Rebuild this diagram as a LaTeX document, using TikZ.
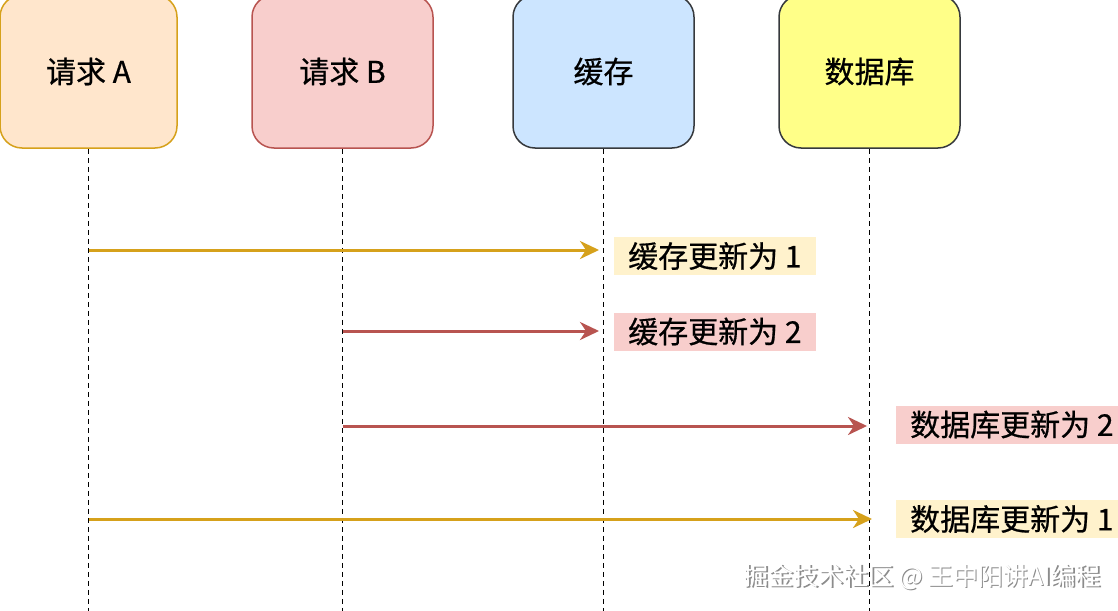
\documentclass[tikz,border=0pt]{standalone}
\usepackage{fontspec}
\setmainfont{Noto Sans CJK SC}
\newfontfamily\medfont{Noto Sans CJK SC}[FakeBold=0.6]
\usetikzlibrary{arrows.meta}
\definecolor{gold}{HTML}{D6A11B}
\definecolor{redline}{HTML}{B85450}
\definecolor{orangefill}{HTML}{FFE6CC}
\definecolor{orangeline}{HTML}{D6A11B}
\definecolor{redfill}{HTML}{F8CECC}
\definecolor{bluefill}{HTML}{CCE5FF}
\definecolor{yellowfill}{HTML}{FFFF88}
\definecolor{darkline}{HTML}{36393D}
\definecolor{notefill}{HTML}{FFF2CC}
\begin{document}
\begin{tikzpicture}[x=1pt,y=-1pt,
  actor/.style={draw, line width=1.5pt, rounded corners=22pt, minimum width=181pt, minimum height=153pt, font=\fontsize{30}{34}\medfont, inner sep=0pt},
  life/.style={line width=1.8pt, dash pattern=on 5pt off 4pt, black},
  msg/.style={line width=3pt, -{Stealth[length=19pt,width=18pt,inset=6pt]}},
  note/.style={anchor=west, minimum height=38pt, inner xsep=14pt, inner ysep=0pt, font=\fontsize{30}{34}\medfont},
  wm/.style={font=\fontsize{25}{28}\selectfont}
]
\useasboundingbox (0,0) rectangle (1118,610);
\fill[white] (0,0) rectangle (1118,610);
% actors
\node[actor, fill=orangefill, draw=orangeline, minimum width=177pt] (A) at (88.5,71.5) {请求 A};
\node[actor, fill=redfill, draw=redline] (B) at (342.5,71.5) {请求 B};
\node[actor, fill=bluefill, draw=darkline] (C) at (603.5,71.5) {缓存};
\node[actor, fill=yellowfill, draw=darkline] (D) at (869.5,71.5) {数据库};
% lifeline ends
\coordinate (Ae) at (88.5,612);
\coordinate (Be) at (342.5,612);
\coordinate (Ce) at (603.5,612);
\coordinate (De) at (869.5,612);
\draw[life] (A.south) -- (Ae);
\draw[life] (B.south) -- (Be);
\draw[life] (C.south) -- (Ce);
\draw[life] (D.south) -- (De);
% message points
\coordinate (a1) at (88.5,250);
\coordinate (c1) at (599,250);
\coordinate (b2) at (342.5,331);
\coordinate (c2) at (599,331);
\coordinate (b3) at (342.5,426);
\coordinate (d3) at (867,426);
\coordinate (a4) at (88.5,519);
\coordinate (d4) at (872,519);
\draw[msg, gold] (a1) -- (c1);
\draw[msg, redline] (b2) -- (c2);
\draw[msg, redline] (b3) -- (d3);
\draw[msg, gold] (a4) -- (d4);
% notes
\node[note, fill=notefill] (n1) at (614,256) {缓存更新为 1};
\node[note, fill=redfill] (n2) at (614,331.5) {缓存更新为 2};
\node[note, fill=redfill] (n3) at (896,424.5) {数据库更新为 2};
\node[note, fill=notefill] (n4) at (896,519) {数据库更新为 1};
% watermark
\node[wm, text=black!45, anchor=west] at (741.5,578.5) {掘金技术社区 @ 王中阳讲AI编程};
\node[wm, text=white, anchor=west] (wm) at (740,577) {掘金技术社区 @ 王中阳讲AI编程};
\end{tikzpicture}
\end{document}
